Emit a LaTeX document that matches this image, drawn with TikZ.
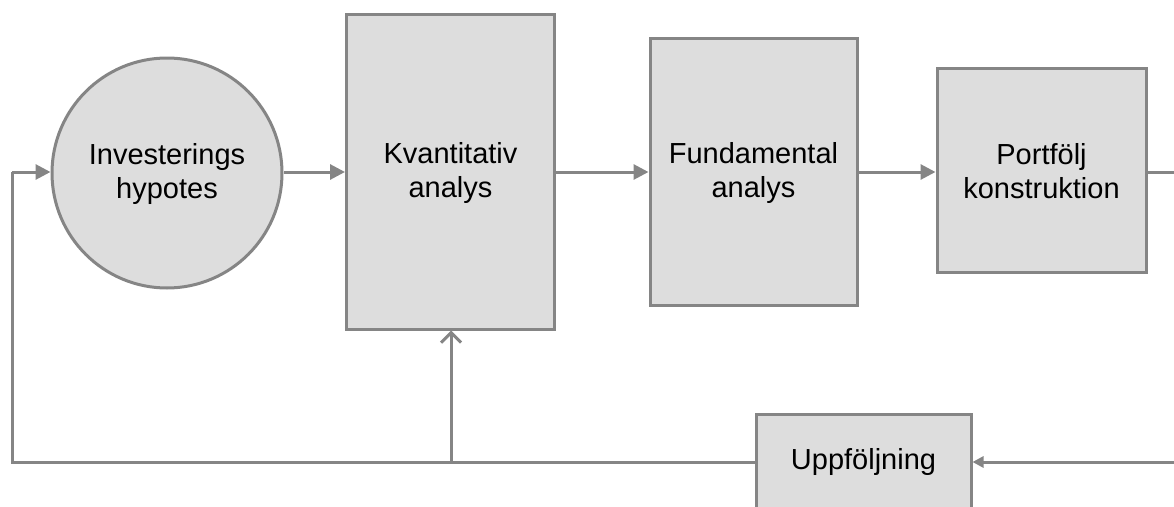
\documentclass[tikz,border=0pt]{standalone}
\usepackage{fontspec}
\setmainfont{Liberation Sans}
\usetikzlibrary{arrows.meta}
\definecolor{boxfill}{HTML}{DDDDDD}
\definecolor{edgegray}{HTML}{858585}
\tikzset{
  procbox/.style={draw=edgegray, line width=3pt, fill=boxfill, inner sep=0pt, align=center,
    font=\fontsize{29}{34}\selectfont},
  flow/.style={draw=edgegray, line width=3pt, -{Triangle[length=15pt,width=15pt]}},
  openflow/.style={draw=edgegray, line width=3pt, -{Straight Barb[length=10pt,width=20pt,line width=3pt]}},
  plain/.style={draw=edgegray, line width=3pt},
}
\begin{document}
\begin{tikzpicture}[x=1pt,y=-1pt]
\useasboundingbox (0,0) rectangle (1174,506);
\clip (0,0) rectangle (1174,506);
\node[procbox, circle, minimum size=230pt] (hyp) at (167,173) {\strut Investerings\\hypotes};
\node[procbox, minimum width=208pt, minimum height=315pt] (kvant) at (450.5,171.5) {\strut Kvantitativ\\analys};
\node[procbox, minimum width=207pt, minimum height=267pt] (fund) at (753.5,171.5) {\strut Fundamental\\analys};
\node[procbox, minimum width=209pt, minimum height=204pt] (port) at (1041.5,170) {\strut Portfölj\\konstruktion};
\node[procbox, minimum width=215pt, minimum height=95pt] (upp) at (863.5,462) {Uppföljning};
\coordinate (rightout) at (1180,172);
\coordinate (rightin) at (1180,462);
\coordinate (leftdown) at (12,462);
\coordinate (leftup) at (12,172);
\coordinate (junc) at (451,462);
% main flow
\draw[flow] (hyp.east |- 0,172) -- (kvant.west |- 0,172);
\draw[flow] (kvant.east |- 0,172) -- (fund.west |- 0,172);
\draw[flow] (fund.east |- 0,172) -- (port.west |- 0,172);
\draw[plain] (port.east |- 0,172) -- (rightout);
% feedback
\draw[flow, -{Triangle[length=11pt,width=11pt]}] (rightin) -- (upp.east);
\draw[plain] (upp.west) -- (leftdown) -- (leftup);
\draw[flow] (leftup) -- (hyp.west |- 0,172);
\draw[openflow] (junc) -- (kvant.south -| junc);
\end{tikzpicture}
\end{document}
